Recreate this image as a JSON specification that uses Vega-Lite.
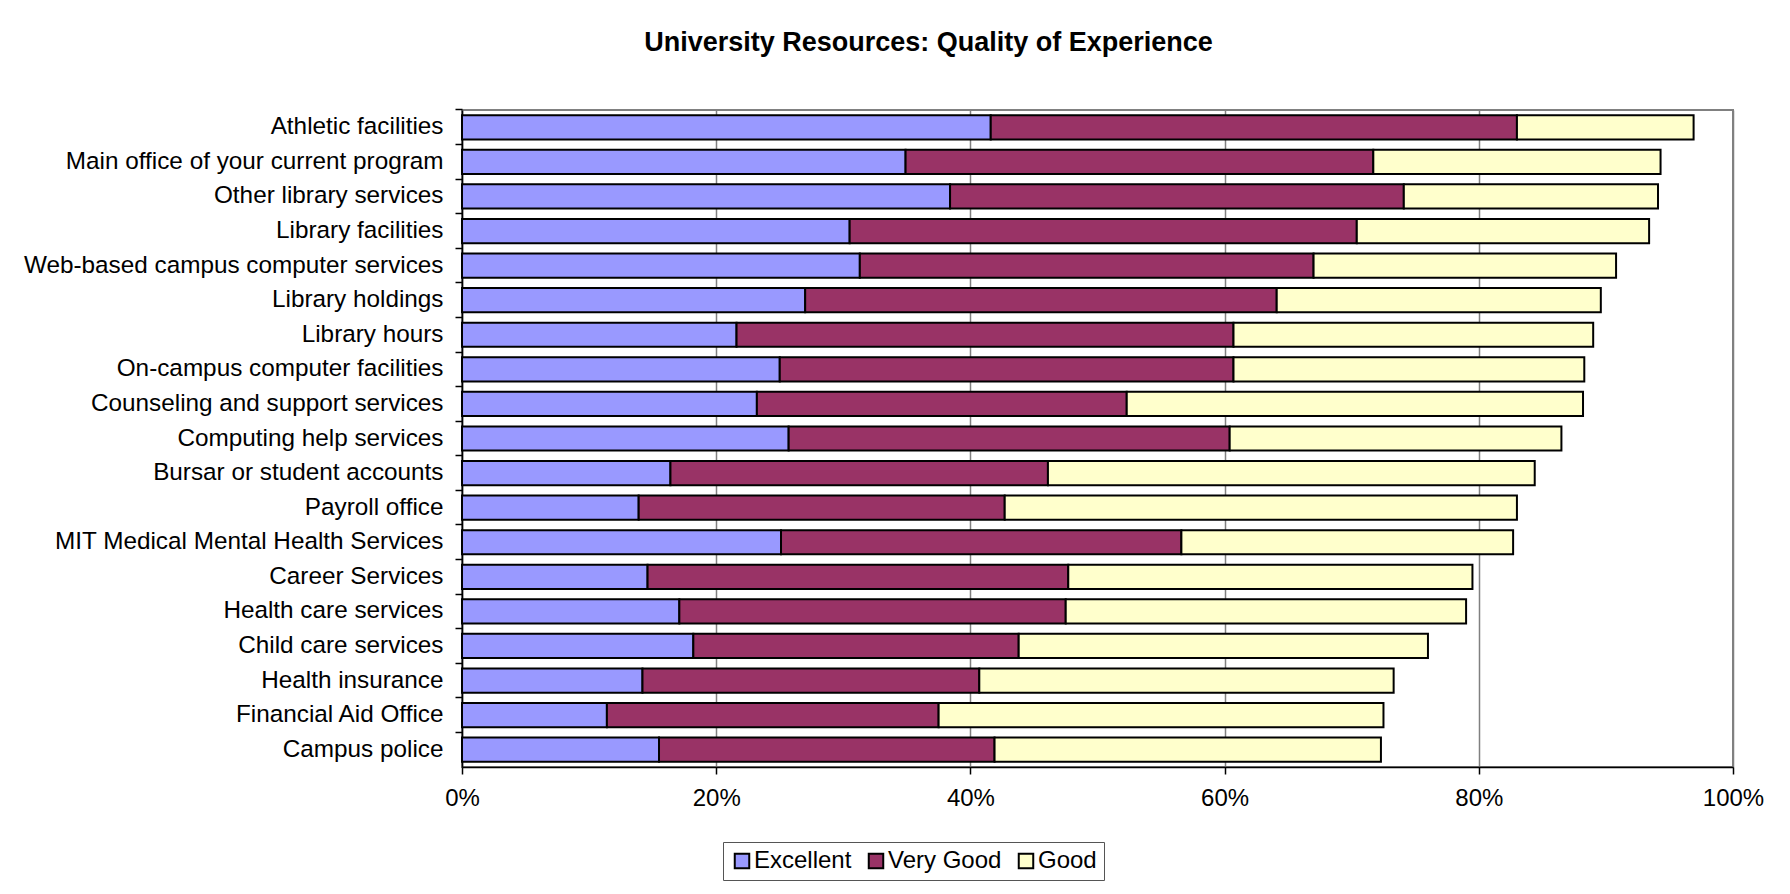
{
  "$schema": "https://vega.github.io/schema/vega-lite/v6.json",
  "width": 1271,
  "height": 657,
  "autosize": {"type": "none"},
  "padding": {"left": 462, "top": 110, "right": 57, "bottom": 127},
  "background": "white",
  "title": {
    "text": "University Resources: Quality of Experience",
    "font": "Liberation Sans",
    "fontSize": 27,
    "fontWeight": "bold",
    "color": "black",
    "anchor": "middle",
    "frame": "group",
    "dx": -169,
    "offset": 51.5
  },
  "data": {
    "values": [
      {"resource": "Athletic facilities", "rating": "Excellent", "rank": 1, "share": 0.416},
      {"resource": "Athletic facilities", "rating": "Very Good", "rank": 2, "share": 0.414},
      {"resource": "Athletic facilities", "rating": "Good", "rank": 3, "share": 0.139},
      {"resource": "Main office of your current program", "rating": "Excellent", "rank": 1, "share": 0.349},
      {"resource": "Main office of your current program", "rating": "Very Good", "rank": 2, "share": 0.368},
      {"resource": "Main office of your current program", "rating": "Good", "rank": 3, "share": 0.226},
      {"resource": "Other library services", "rating": "Excellent", "rank": 1, "share": 0.384},
      {"resource": "Other library services", "rating": "Very Good", "rank": 2, "share": 0.357},
      {"resource": "Other library services", "rating": "Good", "rank": 3, "share": 0.200},
      {"resource": "Library facilities", "rating": "Excellent", "rank": 1, "share": 0.305},
      {"resource": "Library facilities", "rating": "Very Good", "rank": 2, "share": 0.399},
      {"resource": "Library facilities", "rating": "Good", "rank": 3, "share": 0.230},
      {"resource": "Web-based campus computer services", "rating": "Excellent", "rank": 1, "share": 0.313},
      {"resource": "Web-based campus computer services", "rating": "Very Good", "rank": 2, "share": 0.357},
      {"resource": "Web-based campus computer services", "rating": "Good", "rank": 3, "share": 0.238},
      {"resource": "Library holdings", "rating": "Excellent", "rank": 1, "share": 0.270},
      {"resource": "Library holdings", "rating": "Very Good", "rank": 2, "share": 0.371},
      {"resource": "Library holdings", "rating": "Good", "rank": 3, "share": 0.255},
      {"resource": "Library hours", "rating": "Excellent", "rank": 1, "share": 0.216},
      {"resource": "Library hours", "rating": "Very Good", "rank": 2, "share": 0.391},
      {"resource": "Library hours", "rating": "Good", "rank": 3, "share": 0.283},
      {"resource": "On-campus computer facilities", "rating": "Excellent", "rank": 1, "share": 0.250},
      {"resource": "On-campus computer facilities", "rating": "Very Good", "rank": 2, "share": 0.357},
      {"resource": "On-campus computer facilities", "rating": "Good", "rank": 3, "share": 0.276},
      {"resource": "Counseling and support services", "rating": "Excellent", "rank": 1, "share": 0.232},
      {"resource": "Counseling and support services", "rating": "Very Good", "rank": 2, "share": 0.291},
      {"resource": "Counseling and support services", "rating": "Good", "rank": 3, "share": 0.359},
      {"resource": "Computing help services", "rating": "Excellent", "rank": 1, "share": 0.257},
      {"resource": "Computing help services", "rating": "Very Good", "rank": 2, "share": 0.347},
      {"resource": "Computing help services", "rating": "Good", "rank": 3, "share": 0.261},
      {"resource": "Bursar or student accounts", "rating": "Excellent", "rank": 1, "share": 0.164},
      {"resource": "Bursar or student accounts", "rating": "Very Good", "rank": 2, "share": 0.297},
      {"resource": "Bursar or student accounts", "rating": "Good", "rank": 3, "share": 0.383},
      {"resource": "Payroll office", "rating": "Excellent", "rank": 1, "share": 0.139},
      {"resource": "Payroll office", "rating": "Very Good", "rank": 2, "share": 0.288},
      {"resource": "Payroll office", "rating": "Good", "rank": 3, "share": 0.403},
      {"resource": "MIT Medical Mental Health Services", "rating": "Excellent", "rank": 1, "share": 0.251},
      {"resource": "MIT Medical Mental Health Services", "rating": "Very Good", "rank": 2, "share": 0.315},
      {"resource": "MIT Medical Mental Health Services", "rating": "Good", "rank": 3, "share": 0.261},
      {"resource": "Career Services", "rating": "Excellent", "rank": 1, "share": 0.146},
      {"resource": "Career Services", "rating": "Very Good", "rank": 2, "share": 0.331},
      {"resource": "Career Services", "rating": "Good", "rank": 3, "share": 0.318},
      {"resource": "Health care services", "rating": "Excellent", "rank": 1, "share": 0.171},
      {"resource": "Health care services", "rating": "Very Good", "rank": 2, "share": 0.304},
      {"resource": "Health care services", "rating": "Good", "rank": 3, "share": 0.315},
      {"resource": "Child care services", "rating": "Excellent", "rank": 1, "share": 0.182},
      {"resource": "Child care services", "rating": "Very Good", "rank": 2, "share": 0.256},
      {"resource": "Child care services", "rating": "Good", "rank": 3, "share": 0.322},
      {"resource": "Health insurance", "rating": "Excellent", "rank": 1, "share": 0.142},
      {"resource": "Health insurance", "rating": "Very Good", "rank": 2, "share": 0.265},
      {"resource": "Health insurance", "rating": "Good", "rank": 3, "share": 0.326},
      {"resource": "Financial Aid Office", "rating": "Excellent", "rank": 1, "share": 0.114},
      {"resource": "Financial Aid Office", "rating": "Very Good", "rank": 2, "share": 0.261},
      {"resource": "Financial Aid Office", "rating": "Good", "rank": 3, "share": 0.350},
      {"resource": "Campus police", "rating": "Excellent", "rank": 1, "share": 0.155},
      {"resource": "Campus police", "rating": "Very Good", "rank": 2, "share": 0.264},
      {"resource": "Campus police", "rating": "Good", "rank": 3, "share": 0.304}
    ]
  },
  "layer": [
    {
      "mark": {"type": "bar", "stroke": "black", "strokeWidth": 2, "opacity": 1},
      "encoding": {
        "y": {
          "field": "resource",
          "type": "nominal",
          "sort": null,
          "title": null,
          "scale": {"paddingInner": 0.3, "paddingOuter": 0.15},
          "axis": {
            "orient": "left",
            "ticks": false,
            "domainColor": "black",
            "domainWidth": 1.5,
            "labelFont": "Liberation Sans",
            "labelFontSize": 24.3,
            "labelColor": "black",
            "labelPadding": 19,
            "labelLimit": 1000,
            "grid": false
          }
        },
        "x": {
          "field": "share",
          "type": "quantitative",
          "stack": "zero",
          "title": null,
          "scale": {"domain": [0, 1], "nice": false},
          "axis": {
            "format": ".0%",
            "values": [0, 0.2, 0.4, 0.6, 0.8, 1],
            "labelFlush": false,
            "domainColor": "black",
            "domainWidth": 1.5,
            "tickColor": "black",
            "tickWidth": 1.5,
            "tickSize": 7,
            "labelFont": "Liberation Sans",
            "labelFontSize": 24,
            "labelColor": "black",
            "labelPadding": 12,
            "grid": true,
            "gridColor": "#808080",
            "gridWidth": 1.5,
            "gridOpacity": 1
          }
        },
        "color": {
          "field": "rating",
          "type": "nominal",
          "scale": {
            "domain": ["Excellent", "Very Good", "Good"],
            "range": ["#9999FF", "#993366", "#FFFFCC"]
          },
          "legend": {
            "title": null,
            "orient": "none",
            "legendX": 261,
            "legendY": 732,
            "direction": "horizontal",
            "strokeColor": "#555555",
            "fillColor": "white",
            "padding": 7,
            "symbolType": "square",
            "symbolSize": 210,
            "symbolStrokeColor": "black",
            "symbolStrokeWidth": 2,
            "symbolOpacity": 1,
            "labelFont": "Liberation Sans",
            "labelFontSize": 24,
            "labelColor": "black",
            "labelOffset": 0,
            "columnPadding": 12
          }
        },
        "order": {"field": "rank", "type": "quantitative"}
      }
    },
    {
      "mark": {"type": "bar", "opacity": 0},
      "encoding": {
        "y": {
          "field": "resource",
          "type": "nominal",
          "sort": null,
          "title": null,
          "axis": {
            "orient": "left",
            "labels": false,
            "domain": false,
            "grid": false,
            "ticks": true,
            "tickColor": "black",
            "tickWidth": 1.5,
            "tickSize": 7,
            "bandPosition": -0.2143
          }
        },
        "x": {"field": "share", "type": "quantitative", "stack": "zero"}
      }
    }
  ],
  "resolve": {"axis": {"y": "independent"}},
  "config": {
    "view": {"stroke": "#808080", "strokeWidth": 2}
  }
}
